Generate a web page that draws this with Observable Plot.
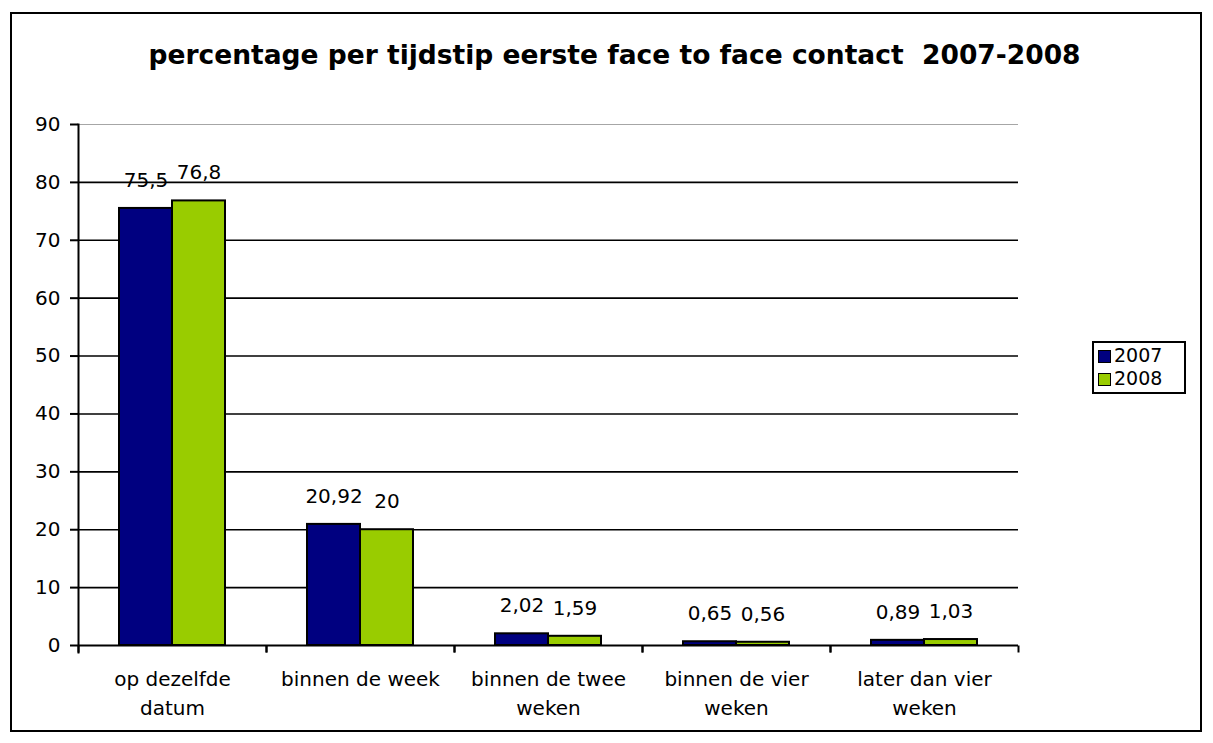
<!DOCTYPE html>
<html>
<head>
<meta charset="utf-8">
<script src="https://cdn.jsdelivr.net/npm/d3@7"></script>
<script src="https://cdn.jsdelivr.net/npm/@observablehq/plot@0.6"></script>
<style>
  html, body { margin: 0; padding: 0; background: #fff; overflow: hidden; }
  #page { position: relative; width: 1213px; height: 743px; overflow: hidden; font-family: "DejaVu Sans", sans-serif; color: #000; }
  #border { position: absolute; left: 10px; top: 12px; width: 1192px; height: 720px; border: 2px solid #000; box-sizing: border-box; }
  #title { position: absolute; left: 0; top: 40px; width: 1213px; padding-left: 16px; box-sizing: border-box; text-align: center; font: bold 26.5px/30px "DejaVu Sans", sans-serif; white-space: pre; }
  #chart { position: absolute; left: 0; top: 100px; }
  #legend { position: absolute; left: 1092px; top: 341px; width: 94px; height: 53px; border: 2px solid #000; box-sizing: border-box; }
  .sw { position: absolute; width: 13px; height: 13px; border: 1.5px solid #000; box-sizing: border-box; }
  .lt { position: absolute; font: 19px/19px "DejaVu Sans", sans-serif; }
</style>
</head>
<body>
<div id="page">
  <div id="border"></div>
  <div id="title"></div>
  <div id="chart"></div>
  <div id="legend"></div>
</div>
<script>
// ---- data ----
const title = "percentage per tijdstip eerste face to face contact  2007-2008";
const categories = ["op dezelfde datum", "binnen de week", "binnen de twee weken", "binnen de vier weken", "later dan vier weken"];
const categoryLabels = ["op dezelfde\ndatum", "binnen de week", "binnen de twee\nweken", "binnen de vier\nweken", "later dan vier\nweken"];
const years = ["2007", "2008"];
const values2007 = [75.5, 20.92, 2.02, 0.65, 0.89];
const values2008 = [76.8, 20, 1.59, 0.56, 1.03];
const valueLabels2007 = ["75,5", "20,92", "2,02", "0,65", "0,89"];
const valueLabels2008 = ["76,8", "20", "1,59", "0,56", "1,03"];
const yTicks = [0, 10, 20, 30, 40, 50, 60, 70, 80, 90];
const colors = ["#000080", "#99CC00"];

// ---- build table ----
const rows = [];
categories.forEach((c, i) => {
  rows.push({category: c, year: years[0], value: values2007[i], label: valueLabels2007[i]});
  rows.push({category: c, year: years[1], value: values2008[i], label: valueLabels2008[i]});
});

document.getElementById("title").textContent = title;

// small downward tick drawn at facet boundaries
const tickDown = {draw(ctx) { ctx.moveTo(0, 0); ctx.lineTo(0, 7); }};

const chart = Plot.plot({
  width: 1040,
  height: 635,
  marginLeft: 77,
  marginRight: 21,
  marginTop: 24,
  marginBottom: 90,
  style: {fontFamily: "DejaVu Sans, sans-serif", fontSize: "20px", color: "#000", background: "transparent", overflow: "visible"},
  fx: {domain: categories, padding: 0, label: null},
  x: {domain: years, paddingInner: 0, paddingOuter: 0.745, axis: null},
  y: {domain: [0, 90], label: null},
  color: {domain: years, range: colors},
  marks: [
    Plot.ruleY(yTicks.filter(t => t > 0 && t < 90), {stroke: "#000", strokeWidth: 1.6}),
    Plot.ruleY([90], {stroke: "#a6a6a6", strokeWidth: 1}),
    Plot.barY(rows, {fx: "category", x: "year", y: "value", fill: "year", stroke: "#000", strokeWidth: 2}),
    Plot.ruleY([0], {stroke: "#000", strokeWidth: 2}),
    Plot.frame({anchor: "left", facet: "super", insetBottom: -7, stroke: "#000", strokeWidth: 2}),
    Plot.dot([0], {frameAnchor: "bottom-left", symbol: tickDown, stroke: "#000", strokeWidth: 2}),
    Plot.dot([0], {frameAnchor: "bottom-right", symbol: tickDown, stroke: "#000", strokeWidth: 2}),
    Plot.axisY({ticks: yTicks, tickSize: 8, tickPadding: 10, label: null, stroke: "#000", strokeWidth: 2, fill: "#000"}),
    Plot.axisFx({anchor: "bottom", tickSize: 0, tickPadding: 20, label: null, lineHeight: 1.45,
      tickFormat: c => categoryLabels[categories.indexOf(c)], fill: "#000"}),
    Plot.text(rows, {fx: "category", x: "year", y: "value", text: "label", dy: -28, lineAnchor: "middle", fill: "#000"})
  ]
});
document.getElementById("chart").appendChild(chart);

// ---- legend ----
const legend = document.getElementById("legend");
years.forEach((y, i) => {
  const sw = document.createElement("div");
  sw.className = "sw";
  sw.style.left = "4px";
  sw.style.top = (7 + i * 23) + "px";
  sw.style.background = colors[i];
  legend.appendChild(sw);
  const t = document.createElement("div");
  t.className = "lt";
  t.style.left = "20px";
  t.style.top = (3 + i * 23) + "px";
  t.textContent = y;
  legend.appendChild(t);
});
</script>
</body>
</html>
